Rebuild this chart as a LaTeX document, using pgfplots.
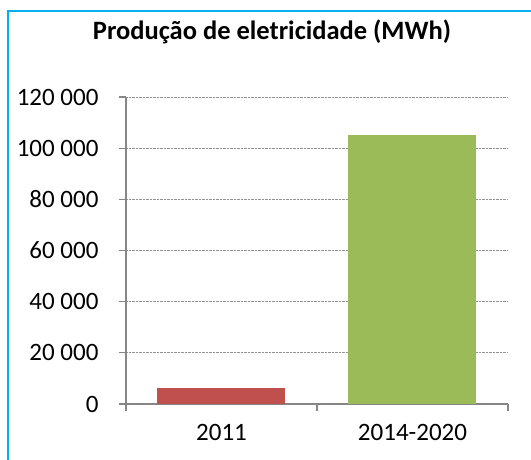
\documentclass[border=0pt]{standalone}
\usepackage{fontspec}
\setmainfont{Carlito}
\usepackage{pgfplots}
\pgfplotsset{compat=1.18}
\definecolor{frameblue}{HTML}{00B0F0}
\definecolor{axisgray}{HTML}{868686}
\definecolor{barred}{HTML}{C0504D}
\definecolor{bargreen}{HTML}{9BBB59}
\begin{document}
\begin{tikzpicture}[x=1pt,y=1pt]
\useasboundingbox (0,0) rectangle (531,460);
\draw[frameblue, line width=1.8pt] (8,-5) -- (8,449) -- (540,449);
\node[font=\fontsize{26.5}{30}\selectfont\bfseries, anchor=base] at (272,420) {Produção de eletricidade (MWh)};
\begin{axis}[
  at={(126pt,56pt)}, anchor=south west,
  scale only axis, width=382pt, height=307pt,
  xmin=-0.5, xmax=1.5, ymin=0, ymax=120000,
  scaled y ticks=false,
  axis x line=bottom, axis y line=left,
  axis line style={-, axisgray, line width=1.3pt},
  ytick={0,20000,...,120000},
  yticklabels={0,20 000,40 000,60 000,80 000,100 000,120 000},
  xtick={-0.5,0.5,1.5},
  x tick label as interval,
  xticklabels={2011,2014-2020},
  ymajorgrids,
  grid style={densely dotted, axisgray!90, line width=0.8pt},
  tick align=outside, major tick length=7pt,
  tick style={axisgray, line width=1.3pt},
  tick label style={font=\fontsize{25}{29}\selectfont},
  yticklabel style={xshift=-17pt},
  xticklabel style={yshift=-10pt},
  ybar, bar width=128pt,
]
\addplot[bar shift=0pt, fill=barred, draw=none] coordinates {(0,6200)};
\addplot[bar shift=0pt, fill=bargreen, draw=none] coordinates {(1,105000)};
\end{axis}
\end{tikzpicture}
\end{document}
